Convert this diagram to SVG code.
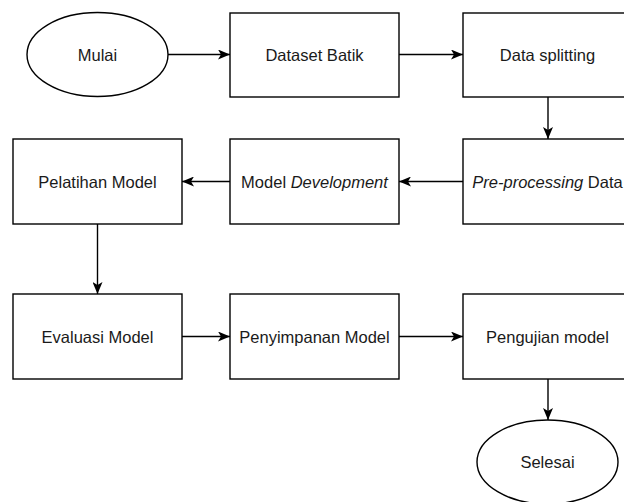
<svg xmlns="http://www.w3.org/2000/svg" width="624" height="502" viewBox="0 0 624 502">
  <style>
    .box { fill: #ffffff; stroke: #000000; stroke-width: 1.4; }
    .lbl { font-family: "Liberation Sans", Arial, sans-serif; font-size: 16.5px; fill: #1a1a1a; text-anchor: middle; }
    .edge { fill: none; stroke: #000000; stroke-width: 1.4; }
  </style>
  <defs>
    <marker id="arrow" viewBox="0 0 12 10" refX="12" refY="5" markerWidth="12" markerHeight="10" markerUnits="userSpaceOnUse" orient="auto">
      <path d="M0,0 L12,5 L0,10 L3,5 Z" fill="#000000"/>
    </marker>
  </defs>
  <rect width="624" height="502" fill="#ffffff"/>

  <!-- connectors -->
  <g id="connectors">
    <line class="edge" x1="168" y1="54.5" x2="230" y2="54.5" marker-end="url(#arrow)"/>
    <line class="edge" x1="399" y1="54.5" x2="463" y2="54.5" marker-end="url(#arrow)"/>
    <line class="edge" x1="548" y1="97" x2="548" y2="139" marker-end="url(#arrow)"/>
    <line class="edge" x1="463" y1="181.5" x2="399" y2="181.5" marker-end="url(#arrow)"/>
    <line class="edge" x1="230" y1="181.5" x2="182" y2="181.5" marker-end="url(#arrow)"/>
    <line class="edge" x1="97.5" y1="224" x2="97.5" y2="294" marker-end="url(#arrow)"/>
    <line class="edge" x1="182" y1="336.5" x2="230" y2="336.5" marker-end="url(#arrow)"/>
    <line class="edge" x1="399" y1="336.5" x2="463" y2="336.5" marker-end="url(#arrow)"/>
    <line class="edge" x1="548" y1="379" x2="548" y2="420" marker-end="url(#arrow)"/>
  </g>

  <!-- nodes -->
  <g id="mulai">
    <ellipse class="box" cx="97.5" cy="54.5" rx="70.5" ry="42"/>
    <text class="lbl" x="97.5" y="60.5">Mulai</text>
  </g>
  <g id="dataset-batik">
    <rect class="box" x="230" y="13" width="169" height="84"/>
    <text class="lbl" x="314.5" y="60.5">Dataset Batik</text>
  </g>
  <g id="data-splitting">
    <rect class="box" x="463" y="13" width="169" height="84"/>
    <text class="lbl" x="547.5" y="60.5">Data splitting</text>
  </g>
  <g id="pre-processing">
    <rect class="box" x="463" y="139" width="169" height="85"/>
    <text class="lbl" x="547.5" y="187.5"><tspan font-style="italic">Pre-processing</tspan> Data</text>
  </g>
  <g id="model-development">
    <rect class="box" x="230" y="139" width="169" height="85"/>
    <text class="lbl" x="314.5" y="187.5">Model <tspan font-style="italic">Development</tspan></text>
  </g>
  <g id="pelatihan-model">
    <rect class="box" x="13" y="139" width="169" height="85"/>
    <text class="lbl" x="97.5" y="187.5">Pelatihan Model</text>
  </g>
  <g id="evaluasi-model">
    <rect class="box" x="13" y="294" width="169" height="85"/>
    <text class="lbl" x="97.5" y="342.5">Evaluasi Model</text>
  </g>
  <g id="penyimpanan-model">
    <rect class="box" x="230" y="294" width="169" height="85"/>
    <text class="lbl" x="314.5" y="342.5">Penyimpanan Model</text>
  </g>
  <g id="pengujian-model">
    <rect class="box" x="463" y="294" width="169" height="85"/>
    <text class="lbl" x="547.5" y="342.5">Pengujian model</text>
  </g>
  <g id="selesai">
    <ellipse class="box" cx="547.5" cy="462" rx="70.5" ry="42"/>
    <text class="lbl" x="547.5" y="468">Selesai</text>
  </g>
</svg>
